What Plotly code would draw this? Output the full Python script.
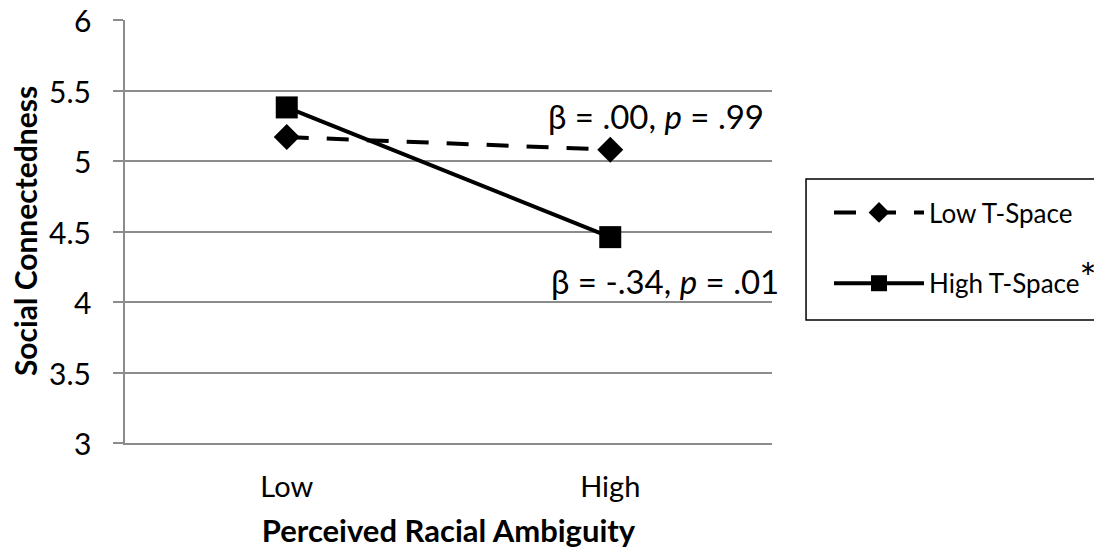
import plotly.graph_objects as go

categories = ["Low", "High"]
low_tspace = [5.17, 5.08]
high_tspace = [5.38, 4.46]
series_names = ["Low T-Space", "High T-Space"]
annot_texts = ["β = .00, <i>p</i> = .99", "β = -.34, <i>p</i> = .01"]
y_ticks = [3, 3.5, 4, 4.5, 5, 5.5, 6]
y_title = "Social Connectedness"
x_title = "Perceived Racial Ambiguity"

FONT = "Lato"

fig = go.Figure()
fig.add_trace(go.Scatter(
    x=categories, y=low_tspace, name=series_names[0], mode="lines+markers",
    line=dict(color="black", width=4, dash="22px,18px"),
    marker=dict(symbol="diamond", size=20, color="black"),
    legendgroup="a"))
fig.add_trace(go.Scatter(
    x=categories, y=high_tspace,
    name=series_names[1] + "<span style='font-size:40px'>*</span>",
    mode="lines+markers",
    line=dict(color="black", width=4),
    marker=dict(symbol="square", size=22, color="black"),
    legendgroup="b"))

fig.add_annotation(x=1, y=low_tspace[1], text=annot_texts[0], showarrow=False,
                   xanchor="center", yanchor="bottom", xshift=46, yshift=12,
                   font=dict(size=33, color="black", family=FONT))
fig.add_annotation(x=1, y=high_tspace[1], text=annot_texts[1], showarrow=False,
                   xanchor="center", yanchor="top", xshift=55, yshift=-22,
                   font=dict(size=33, color="black", family=FONT))

# y tick labels, placed at the tick values
for v in y_ticks:
    fig.add_annotation(x=-0.0495, y=v, xref="paper", yref="y", text=f"{v:g}",
                       showarrow=False, xanchor="right", yanchor="middle",
                       font=dict(size=30, color="black", family=FONT))

# y-axis title
fig.add_annotation(x=-0.1546, y=0.501, xref="paper", yref="paper",
                   text=f"<b>{y_title}</b>", textangle=-90, showarrow=False,
                   xanchor="center", yanchor="middle",
                   font=dict(size=30, color="black", family=FONT))

# legend frame (box) in paper coordinates
fig.add_shape(type="rect", xref="paper", yref="paper",
              x0=1.0526, x1=1.52, y0=0.2908, y1=0.624,
              line=dict(color="black", width=1.5), fillcolor="rgba(0,0,0,0)")

fig.update_layout(
    width=1086, height=541,
    margin=dict(l=117, r=322, t=12, b=106, autoexpand=False),
    paper_bgcolor="white", plot_bgcolor="white",
    font=dict(family=FONT, color="black", size=28),
    showlegend=True,
    legend=dict(xref="container", yref="container", x=0.756, y=0.6654,
                xanchor="left", yanchor="top",
                borderwidth=0, bgcolor="rgba(0,0,0,0)",
                font=dict(size=26, family=FONT), tracegroupgap=34,
                itemwidth=90),
)
fig.update_xaxes(type="category", range=[-0.5, 1.5], showgrid=False,
                 showline=True, linecolor="#8c8c8c", linewidth=1.5, mirror=False,
                 ticks="", ticklabelstandoff=17, tickfont=dict(size=29),
                 automargin=False,
                 title=dict(text=f"<b>{x_title}</b>", font=dict(size=31), standoff=23))
fig.update_yaxes(range=[3, 6], tickvals=y_ticks, showticklabels=False,
                 showgrid=True, gridcolor="#8c8c8c", gridwidth=1.5,
                 showline=True, linecolor="#8c8c8c", linewidth=1.5,
                 ticks="outside", ticklen=10, tickcolor="#8c8c8c", tickwidth=1.5,
                 zeroline=False, automargin=False)

fig.write_html("out.html")
